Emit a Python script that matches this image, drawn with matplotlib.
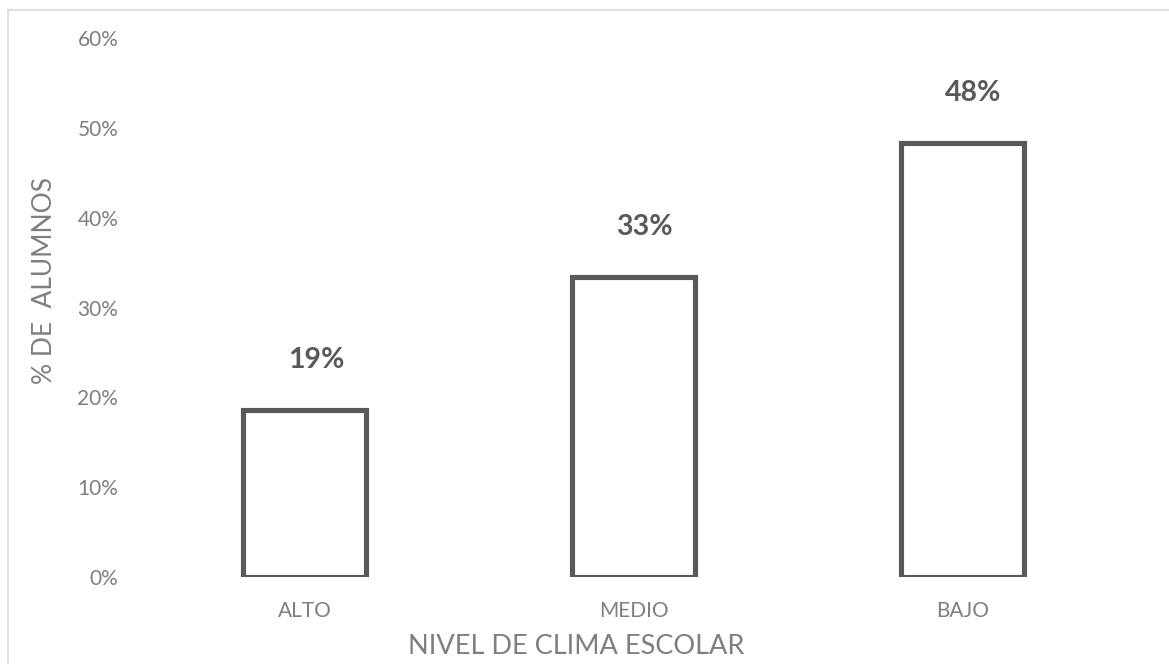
import matplotlib
matplotlib.use('Agg')
import matplotlib.pyplot as plt
from matplotlib.ticker import PercentFormatter
from matplotlib.patches import Rectangle

plt.rcParams['font.family'] = ['Lato', 'DejaVu Sans']

categories = ['ALTO', 'MEDIO', 'BAJO']
values = [18.6, 33.4, 48.3]
labels = ['19%', '33%', '48%']
yticks = [0, 10, 20, 30, 40, 50, 60]

DARK = '#595959'
GRAY = '#7f7f7f'

fig = plt.figure(figsize=(11.69, 6.64), dpi=100)
ax = fig.add_axes([140.5 / 1169, 1 - 577 / 664, (1126.5 - 140.5) / 1169, (577 - 38) / 664])

x = range(len(categories))
bars = ax.bar(x, values, width=0.375, color='white', edgecolor=DARK, linewidth=3.7)

# value labels sit a little right of the bar centre, like the original
for b, lab in zip(bars, labels):
    ax.annotate(lab, (b.get_x() + b.get_width() / 2, b.get_height()),
                xytext=(8, 36), textcoords='offset points', ha='center', va='center',
                fontsize=20.5, fontweight='bold', color=DARK)

ax.set_xlim(-0.5, len(categories) - 0.5)
ax.set_ylim(0, 60)
ax.set_yticks(yticks)
ax.yaxis.set_major_formatter(PercentFormatter(decimals=0))
ax.set_xticks(list(x))
ax.set_xticklabels(categories)
ax.tick_params(axis='both', length=0, labelsize=15, colors=GRAY)
ax.tick_params(axis='y', pad=16)
ax.tick_params(axis='x', pad=17)
for s in ax.spines.values():
    s.set_visible(False)

ax.set_xlabel('NIVEL DE CLIMA ESCOLAR', fontsize=19.5, color=GRAY)
ax.xaxis.set_label_coords((576 - 140.5) / 986, -(647 - 577) / 539)
ax.xaxis.label.set_va('center')
ax.set_ylabel('% DE  ALUMNOS', fontsize=19, color=GRAY)
ax.yaxis.set_label_coords(-(140.5 - 45) / 986, (577 - 280) / 539)
ax.yaxis.label.set_va('center')

# chart area border
fig.patches.append(Rectangle((8 / 1169, -0.1), 1.2, 1 - 10 / 664 + 0.1, transform=fig.transFigure,
                             fill=False, edgecolor='#d9d9d9', linewidth=1.2))

fig.savefig('out.png', dpi=100)
